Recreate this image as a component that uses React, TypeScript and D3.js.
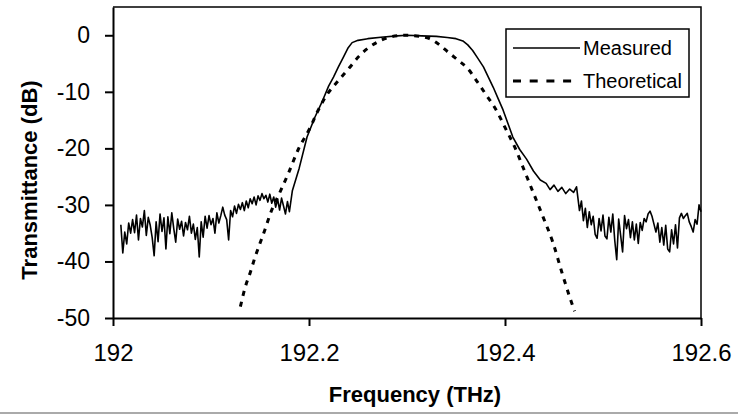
import React, { useEffect, useRef } from 'react'
import * as d3 from 'd3'

// measured trace, noisy floor left of the passband (sampled every 0.002 THz)
const leftNoiseStart = 192.008
const leftNoiseStep = 0.002
const leftNoiseDb = [
  -33.5, -38.5, -34.8, -36.9, -33.2, -35.0, -32.6, -34.9, -31.8, -36.2,
  -32.4, -33.9, -31.0, -35.4, -32.2, -33.6, -35.8, -39.0, -33.0, -36.5,
  -31.6, -34.7, -32.3, -37.8, -32.1, -35.1, -31.4, -34.2, -36.6, -32.5,
  -34.3, -32.9, -35.5, -33.1, -34.4, -32.0, -35.0, -33.4, -36.1, -34.0,
  -39.2, -33.0, -35.7, -32.0, -34.1, -31.9, -33.5, -32.4, -35.0, -31.4,
  -33.2, -31.9, -30.4, -31.8, -32.6, -36.2, -31.0, -32.1, -30.2, -31.5,
  -29.9, -30.8, -29.6, -31.0, -29.3, -30.5, -28.9, -29.8, -28.6, -30.0,
  -28.4, -29.2, -28.0, -28.9, -28.3, -29.5, -28.1, -29.7, -28.6, -30.4,
  -29.0, -30.9, -28.8, -30.2, -31.6, -29.4, -31.2
]

// measured trace through the passband
const passFreq = [
  192.183, 192.19, 192.198, 192.206, 192.214, 192.22, 192.225, 192.23, 192.235, 192.24,
  192.244, 192.25, 192.26, 192.276, 192.29, 192.3, 192.315, 192.33, 192.341, 192.35,
  192.357, 192.362, 192.367, 192.372, 192.378, 192.383, 192.388, 192.393, 192.398, 192.403,
  192.408, 192.415, 192.422, 192.429, 192.436, 192.442, 192.446, 192.45, 192.454, 192.458,
  192.462, 192.466, 192.47, 192.473
]
const passDb = [
  -27.5, -23.5, -18.0, -14.5, -11.5, -9.0, -7.4, -5.6, -3.9, -2.2,
  -1.3, -0.9, -0.6, -0.3, -0.1, 0, -0.1, -0.2, -0.4, -0.6,
  -1.0, -1.7, -2.7, -4.0, -5.6, -7.4, -9.2, -11.2, -13.2, -15.6,
  -18.0, -20.2, -21.9, -24.0, -25.6, -26.2, -27.3, -26.5, -27.6, -26.9,
  -28.0, -27.2, -27.8, -26.8
]

// measured trace, noisy floor right of the passband
const rightNoiseStart = 192.476
const rightNoiseStep = 0.002
const rightNoiseDb = [
  -31.0, -29.3, -32.8, -30.6, -34.0, -31.2, -33.5, -32.0, -35.2, -35.9,
  -32.4, -34.6, -31.8, -35.5, -36.0, -32.2, -34.8, -31.6, -36.3, -39.7,
  -32.5, -35.4, -38.3, -31.9, -34.2, -32.6, -35.8, -33.0, -36.2, -33.4,
  -36.8, -33.1, -34.5, -32.4, -33.0, -31.6, -31.1, -32.0, -33.4, -34.8,
  -33.2, -36.6, -34.0, -37.1, -33.6, -37.8, -38.3, -34.4, -36.9, -33.5,
  -37.6, -32.3, -31.5, -32.4, -31.9, -31.5, -33.0, -33.8, -34.8, -32.6,
  -33.4, -30.0, -31.2
]

// theoretical response
const theoFreq = [
  192.13, 192.135, 192.14, 192.145, 192.15, 192.156, 192.16, 192.17, 192.179, 192.189,
  192.201, 192.209, 192.218, 192.23, 192.241, 192.25, 192.26, 192.27, 192.283, 192.3,
  192.313, 192.323, 192.334, 192.342, 192.352, 192.362, 192.372, 192.381, 192.391, 192.4,
  192.41, 192.419, 192.429, 192.439, 192.449, 192.458, 192.466, 192.471
]
const theoDb = [
  -48.0, -44.5, -42.0, -39.2, -36.8, -33.9, -31.8, -27.9, -24.4, -20.2,
  -16.4, -13.4, -10.6, -8.0, -5.8, -3.9, -2.3, -1.2, -0.3, 0,
  -0.2, -0.6, -1.8, -3.0, -4.4, -5.9, -8.3, -10.6, -13.2, -16.3,
  -19.8, -23.6, -27.9, -32.2, -36.7, -41.9, -46.3, -48.8
]

const xTicks = [192, 192.2, 192.4, 192.6]
const yTicks = [0, -10, -20, -30, -40, -50]
const seriesNames = ['Measured', 'Theoretical']

const App = () => {
  const ref = useRef<SVGSVGElement>(null)

  useEffect(() => {
    const svgWidth = 738
    const svgHeight = 415
    const margin = { top: 7, right: 37, bottom: 97, left: 113 }
    const plotW = svgWidth - margin.left - margin.right
    const plotH = svgHeight - margin.top - margin.bottom

    const svg = d3.select(ref.current)
    svg.selectAll('*').remove()

    const g = svg.append('g').attr('transform', `translate(${margin.left},${margin.top})`)

    const x = d3.scaleLinear().domain([192, 192.6]).range([0, plotW])
    const y = d3.scaleLinear().domain([-50, 5]).range([plotH, 0])

    // stitch the measured trace together
    const measured: [number, number][] = []
    leftNoiseDb.forEach((v, i) => measured.push([leftNoiseStart + i * leftNoiseStep, v]))
    passFreq.forEach((f, i) => measured.push([f, passDb[i]]))
    rightNoiseDb.forEach((v, i) => measured.push([rightNoiseStart + i * rightNoiseStep, v]))
    const theoretical: [number, number][] = theoFreq.map((f, i) => [f, theoDb[i]])

    const font = 'Arial, "Liberation Sans", sans-serif'

    // frame top + right
    g.append('path')
      .attr('d', `M0,0H${plotW}V${plotH}`)
      .attr('fill', 'none')
      .attr('stroke', '#000')
      .attr('stroke-width', 1.5)

    // axes
    const yAxis = g.append('g')
      .call(d3.axisLeft(y).tickValues(yTicks).tickSize(8).tickSizeOuter(0).tickPadding(15)
        .tickFormat(d => String(d)))
    yAxis.select('.domain').attr('stroke-width', 2)
    yAxis.selectAll('line').attr('stroke-width', 2)
    yAxis.selectAll('text').attr('font-family', font).attr('font-size', 23).attr('fill', '#000')

    const xAxis = g.append('g')
      .attr('transform', `translate(0,${plotH})`)
      .call(d3.axisBottom(x).tickValues(xTicks).tickSize(8).tickSizeOuter(0).tickPadding(18)
        .tickFormat(d => String(+(+d).toFixed(1))))
    xAxis.select('.domain').attr('stroke-width', 2)
    xAxis.selectAll('line').attr('stroke-width', 2)
    xAxis.selectAll('text').attr('font-family', font).attr('font-size', 24).attr('fill', '#000')

    // data lines
    const smoothLine = d3.line<[number, number]>()
      .x(d => x(d[0]))
      .y(d => y(d[1]))
      .curve(d3.curveMonotoneX)

    const rawLine = d3.line<[number, number]>()
      .x(d => x(d[0]))
      .y(d => y(d[1]))

    g.append('path')
      .datum(theoretical)
      .attr('fill', 'none')
      .attr('stroke', '#000')
      .attr('stroke-width', 3)
      .attr('stroke-dasharray', '5,6')
      .attr('d', smoothLine)

    g.append('path')
      .datum(measured)
      .attr('fill', 'none')
      .attr('stroke', '#000')
      .attr('stroke-width', 1.6)
      .attr('stroke-linejoin', 'round')
      .attr('d', rawLine)

    // legend
    const legend = svg.append('g').attr('transform', 'translate(506,29)')
    legend.append('rect')
      .attr('width', 183).attr('height', 68)
      .attr('fill', '#fff').attr('stroke', '#000').attr('stroke-width', 1.5)
    seriesNames.forEach((name, i) => {
      const ly = 19 + i * 33
      legend.append('line')
        .attr('x1', 7).attr('x2', i === 0 ? 74 : 66).attr('y1', ly).attr('y2', ly)
        .attr('stroke', '#000')
        .attr('stroke-width', i === 0 ? 1.4 : 3)
        .attr('stroke-dasharray', i === 0 ? null : '8,8.7')
      legend.append('text')
        .attr('x', 77).attr('y', ly + 7)
        .attr('font-family', font).attr('font-size', 20)
        .text(name)
    })

    // axis titles
    svg.append('text')
      .attr('x', 415).attr('y', 402)
      .attr('text-anchor', 'middle')
      .attr('font-family', font).attr('font-size', 22).attr('font-weight', 'bold')
      .text('Frequency (THz)')

    svg.append('text')
      .attr('transform', 'translate(37,180) rotate(-90)')
      .attr('text-anchor', 'middle')
      .attr('font-family', font).attr('font-size', 22).attr('font-weight', 'bold')
      .text('Transmittance (dB)')

    // faint scan line along the bottom of the figure
    svg.append('line')
      .attr('x1', 0).attr('x2', svgWidth).attr('y1', 413).attr('y2', 413)
      .attr('stroke', '#aaa').attr('stroke-width', 2)
  }, [])

  return (
    <svg ref={ref} width={738} height={415}
      style={{ position: 'absolute', left: 0, top: 0, background: '#fff' }} />
  )
}

export default App
